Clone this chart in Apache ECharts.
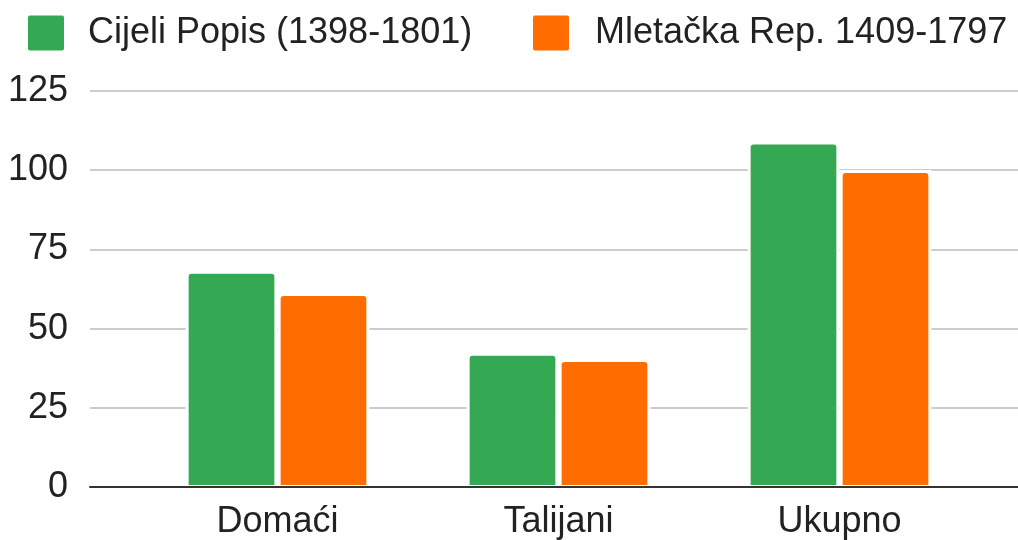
<!DOCTYPE html>
<html>
<head>
<meta charset="utf-8">
<script src="https://cdn.jsdelivr.net/npm/echarts@6/dist/echarts.min.js"></script>
<style>
html,body{margin:0;padding:0;background:#fff;}
#chart{width:1018px;height:540px;}
</style>
</head>
<body>
<div id="chart"></div>
<script>
const categories = ['Domaći', 'Talijani', 'Ukupno'];
const seriesNames = ['Cijeli Popis (1398-1801)', 'Mletačka Rep. 1409-1797'];
const cijeliPopis = [67, 41, 108];
const mletacka = [60, 39, 99];
const yTicks = [0, 25, 50, 75, 100, 125];
const colors = ['#34a853', '#ff6d01'];

const FONT = '"Liberation Sans", Arial, sans-serif';
const TEXT = '#222222';
const ICON = 'path://M2,0 L34,0 Q36,0 36,2 L36,33 Q36,35 34,35 L2,35 Q0,35 0,33 L0,2 Q0,0 2,0 Z';

function renderBar(params, api) {
  const i = api.value(0);
  const v = api.value(1);
  const base = api.coord([i, 0]);
  const top = api.coord([i, v]);
  const band = api.size([1, 0])[0];
  const w = band * 0.305;
  const gap = band * 0.0224;
  const pad = 3;
  const x = params.seriesIndex === 0 ? base[0] - gap / 2 - w : base[0] + gap / 2;
  const h = base[1] - top[1];
  return {
    type: 'group',
    children: [
      {type: 'rect', shape: {x: x - pad, y: top[1] - pad, width: w + 2 * pad, height: h + pad + 1},
       style: {fill: '#ffffff'}},
      {type: 'rect', shape: {x: x, y: top[1], width: w, height: h, r: [3, 3, 0, 0]},
       style: {fill: api.visual('color')}}
    ]
  };
}

const chart = echarts.init(document.getElementById('chart'), null, {renderer: 'canvas'});
chart.setOption({
  animation: false,
  backgroundColor: '#ffffff',
  legend: [
    {
      data: [seriesNames[0]], left: 23, top: 10,
      itemWidth: 36, itemHeight: 35, icon: ICON,
      textStyle: {fontFamily: FONT, fontSize: 36, color: TEXT, padding: [4, 0, 0, 19]}
    },
    {
      data: [seriesNames[1]], left: 528, top: 10,
      itemWidth: 36, itemHeight: 35, icon: ICON,
      textStyle: {fontFamily: FONT, fontSize: 36, color: TEXT, padding: [4, 0, 0, 21]}
    }
  ],
  grid: [
    {left: 90, right: 0, top: 91, bottom: 53, containLabel: false},
    {left: 137, right: 38, top: 91, bottom: 53, containLabel: false}
  ],
  xAxis: [
    {
      type: 'category', gridIndex: 0, data: categories,
      axisLine: {show: true, lineStyle: {color: '#333333', width: 2}},
      axisTick: {show: false}, axisLabel: {show: false}, splitLine: {show: false}
    },
    {
      type: 'category', gridIndex: 1, data: categories,
      axisLine: {show: false}, axisTick: {show: false},
      axisLabel: {fontFamily: FONT, fontSize: 36, color: TEXT, margin: 19}
    }
  ],
  yAxis: [
    {
      type: 'value', gridIndex: 0, min: yTicks[0], max: yTicks[yTicks.length - 1], interval: 25,
      axisLine: {show: false}, axisTick: {show: false},
      axisLabel: {fontFamily: FONT, fontSize: 36, color: TEXT, margin: 22},
      splitLine: {show: true, lineStyle: {color: '#cccccc', width: 2}}
    },
    {
      type: 'value', gridIndex: 1, min: yTicks[0], max: yTicks[yTicks.length - 1], interval: 25,
      show: false, splitLine: {show: false}
    }
  ],
  series: [
    {
      name: seriesNames[0], type: 'custom', coordinateSystem: 'cartesian2d',
      xAxisIndex: 1, yAxisIndex: 1, renderItem: renderBar,
      itemStyle: {color: colors[0]},
      encode: {x: 0, y: 1},
      data: cijeliPopis.map((v, i) => [i, v])
    },
    {
      name: seriesNames[1], type: 'custom', coordinateSystem: 'cartesian2d',
      xAxisIndex: 1, yAxisIndex: 1, renderItem: renderBar,
      itemStyle: {color: colors[1]},
      encode: {x: 0, y: 1},
      data: mletacka.map((v, i) => [i, v])
    }
  ]
});
</script>
</body>
</html>
